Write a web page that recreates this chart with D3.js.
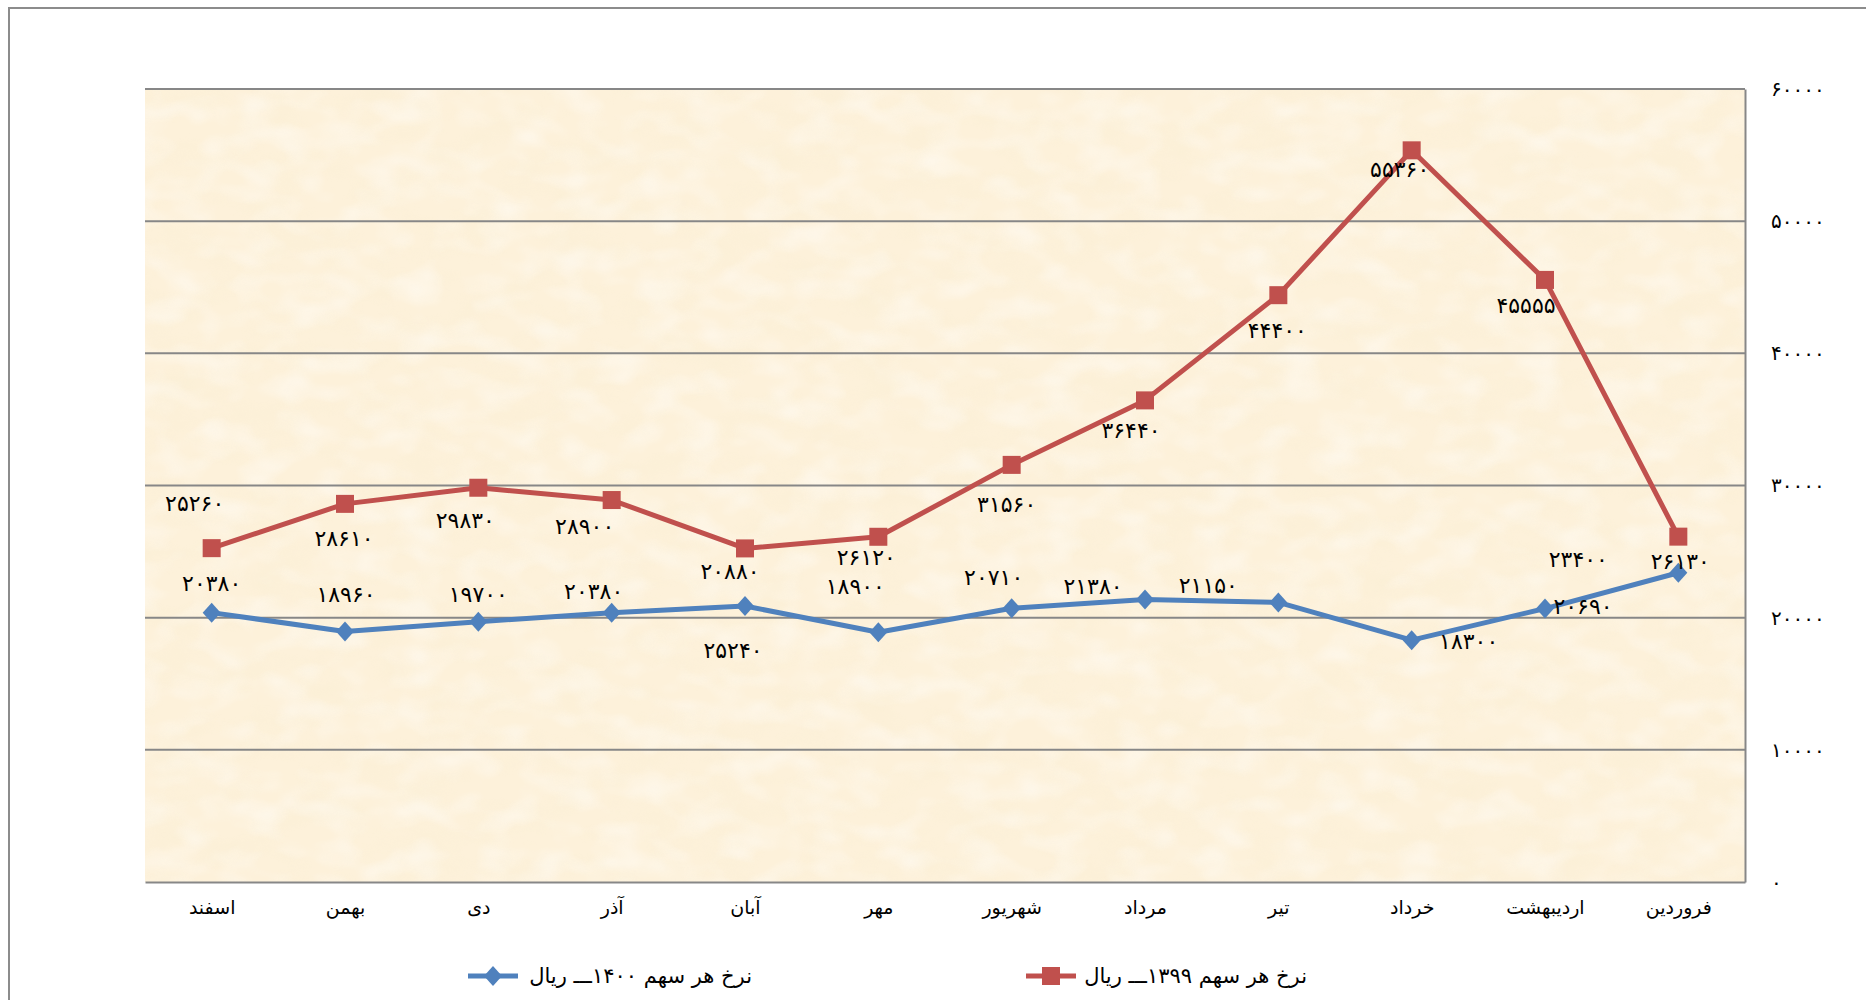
<!DOCTYPE html>
<html>
<head>
<meta charset="utf-8">
<script src="https://cdn.jsdelivr.net/npm/d3@7"></script>
<style>
  body { margin: 0; background: #fff; }
  svg { display: block; }
  text { font-family: "DejaVu Sans", "Noto Sans", sans-serif; fill: #000; }
</style>
</head>
<body>
<div id="chart"></div>
<script>
// months (right to left in the original, so the list runs from اسفند to فروردین)
var months = ["اسفند", "بهمن", "دی", "آذر", "آبان", "مهر", "شهریور", "مرداد", "تیر", "خرداد", "اردیبهشت", "فروردین"];
// share price 1399 (rial)
var price1399 = [25260, 28610, 29830, 28900, 25240, 26120, 31560, 36440, 44400, 55360, 45555, 26130];
// share price 1400 (rial)
var price1400 = [20380, 18960, 19700, 20380, 20880, 18900, 20710, 21380, 21150, 18300, 20690, 23400];
// data label texts as printed on the chart (the آبان pair is swapped in the original)
var labels1399 = [25260, 28610, 29830, 28900, 20880, 26120, 31560, 36440, 44400, 55360, 45555, 26130];
var labels1400 = [20380, 18960, 19700, 20380, 25240, 18900, 20710, 21380, 21150, 18300, 20690, 23400];
var yTicks = [0, 10000, 20000, 30000, 40000, 50000, 60000];
var seriesNames = ["نرخ هر سهم ۱۳۹۹ـــ ریال", "نرخ هر سهم ۱۴۰۰ـــ ریال"];

// hand placed label nudges (px from the point), as in the source chart
var nudge1399 = [[-17,-45],[-1,35],[-13,33],[-27,26],[-15,23],[-12,21],[-5,40],[-14,30],[-1,35],[-12,19],[-19,26],[2,25]];
var nudge1400 = [[0,-29],[1,-37],[0,-27],[-18,-21],[-12,44],[-23,-46],[-18,-31],[-52,-13],[-70,-17],[57,1],[38,-2],[-100,-13]];

var red = "#C0504D", blue = "#4F81BD", grid = "#878787";

// latin digits -> persian digits
function toFa(n) {
	return String(n).replace(/[0-9]/g, function(c) { return "۰۱۲۳۴۵۶۷۸۹"[+c]; });
}

var w = 1866, h = 1000;
var pLeft = 145, pRight = 1745, pTop = 89, pBottom = 882;

var svg = d3.select("#chart").append("svg")
	.attr("width", w)
	.attr("height", h);

// paper texture for the plot area
var defs = svg.append("defs");
var f = defs.append("filter").attr("id", "paper")
	.attr("x", 0).attr("y", 0).attr("width", "100%").attr("height", "100%");
f.append("feTurbulence").attr("type", "fractalNoise").attr("baseFrequency", "0.02 0.035")
	.attr("numOctaves", 3).attr("seed", 7).attr("result", "n");
f.append("feColorMatrix").attr("in", "n").attr("type", "matrix")
	.attr("values", "0 0 0 0 0.93  0 0 0 0 0.84  0 0 0 0 0.62  1.8 0 0 0 -0.75");
var f2 = defs.append("filter").attr("id", "paperLight")
	.attr("x", 0).attr("y", 0).attr("width", "100%").attr("height", "100%");
f2.append("feTurbulence").attr("type", "fractalNoise").attr("baseFrequency", "0.025 0.04")
	.attr("numOctaves", 2).attr("seed", 21).attr("result", "n");
f2.append("feColorMatrix").attr("in", "n").attr("type", "matrix")
	.attr("values", "0 0 0 0 1  0 0 0 0 1  0 0 0 0 1  0 1.8 0 0 -0.75");

// outer chart border (runs past the window)
svg.append("rect")
	.attr("x", 9).attr("y", 8)
	.attr("width", w + 20).attr("height", h + 20)
	.attr("fill", "none")
	.style("stroke", "#8c8c8c")
	.style("stroke-width", "2px");

svg.append("rect")
	.attr("x", pLeft).attr("y", pTop)
	.attr("width", pRight - pLeft).attr("height", pBottom - pTop)
	.attr("fill", "#FDF1DA");
svg.append("rect")
	.attr("x", pLeft).attr("y", pTop)
	.attr("width", pRight - pLeft).attr("height", pBottom - pTop)
	.attr("filter", "url(#paper)")
	.style("opacity", 0.3);
svg.append("rect")
	.attr("x", pLeft).attr("y", pTop)
	.attr("width", pRight - pLeft).attr("height", pBottom - pTop)
	.attr("filter", "url(#paperLight)")
	.style("opacity", 0.5);

var x = d3.scalePoint().domain(months).range([pLeft, pRight]).padding(0.5);
var y = d3.scaleLinear().domain([0, 60000]).range([pBottom, pTop]);

// horizontal gridlines
svg.selectAll("line.grid")
	.data(yTicks.filter(function(d) { return d > 0; })).enter().append("line")
	.attr("class", "grid")
	.attr("x1", pLeft).attr("x2", pRight)
	.attr("y1", function(d) { return y(d); })
	.attr("y2", function(d) { return y(d); })
	.style("stroke", grid)
	.style("stroke-width", "2px");

// y axis on the right side
var yAxis = svg.append("g")
	.attr("transform", "translate(" + pRight + ",0)")
	.call(d3.axisRight(y).tickValues(yTicks).tickSize(0).tickPadding(26).tickFormat(toFa));
yAxis.select(".domain").style("stroke", grid).style("stroke-width", "2px");
yAxis.selectAll("text").style("font-size", "20px").attr("fill", "#000");

// x axis
var xAxis = svg.append("g")
	.attr("transform", "translate(0," + pBottom + ")")
	.call(d3.axisBottom(x).tickSize(0).tickSizeOuter(0).tickPadding(19));
xAxis.select(".domain").style("stroke", grid).style("stroke-width", "2px");
xAxis.selectAll("text").style("font-size", "19px").attr("fill", "#000");

var series = [
	{name: seriesNames[0], values: price1399, labels: labels1399, nudge: nudge1399, color: red, marker: "square"},
	{name: seriesNames[1], values: price1400, labels: labels1400, nudge: nudge1400, color: blue, marker: "diamond"}
];

var line = d3.line()
	.x(function(d, i) { return x(months[i]); })
	.y(function(d) { return y(d); });

function marker(g, type, color) {
	if (type == "square") {
		g.append("rect").attr("x", -9).attr("y", -9).attr("width", 18).attr("height", 18).attr("fill", color);
	} else {
		g.append("path").attr("d", "M0,-10L9,0L0,10L-9,0Z").attr("fill", color);
	}
}

series.forEach(function(s) {
	svg.append("path")
		.datum(s.values)
		.attr("fill", "none")
		.style("stroke", s.color)
		.style("stroke-width", "5px")
		.style("stroke-linejoin", "round")
		.attr("d", line);
	svg.selectAll(null)
		.data(s.values).enter().append("g")
		.attr("transform", function(d, i) { return "translate(" + x(months[i]) + "," + y(d) + ")"; })
		.each(function() { marker(d3.select(this), s.marker, s.color); });
});

// data labels
series.forEach(function(s) {
	svg.selectAll(null)
		.data(s.labels).enter().append("text")
		.attr("x", function(d, i) { return x(months[i]) + s.nudge[i][0]; })
		.attr("y", function(d, i) { return y(s.values[i]) + s.nudge[i][1]; })
		.attr("text-anchor", "middle")
		.attr("dominant-baseline", "central")
		.style("font-size", "22px")
		.text(function(d) { return toFa(d); });
});

// legend
var legend = [
	{s: series[1], x0: 468, tx: 752},
	{s: series[0], x0: 1026, tx: 1307}
];
var ly = 976;
legend.forEach(function(l) {
	svg.append("line")
		.attr("x1", l.x0).attr("x2", l.x0 + 50)
		.attr("y1", ly).attr("y2", ly)
		.style("stroke", l.s.color)
		.style("stroke-width", "5px");
	var g = svg.append("g").attr("transform", "translate(" + (l.x0 + 25) + "," + ly + ")");
	marker(g, l.s.marker, l.s.color);
	svg.append("text")
		.attr("x", l.tx).attr("y", ly)
		.attr("text-anchor", "end")
		.attr("dominant-baseline", "central")
		.style("font-size", "21px")
		.text(l.s.name);
});
</script>
</body>
</html>
